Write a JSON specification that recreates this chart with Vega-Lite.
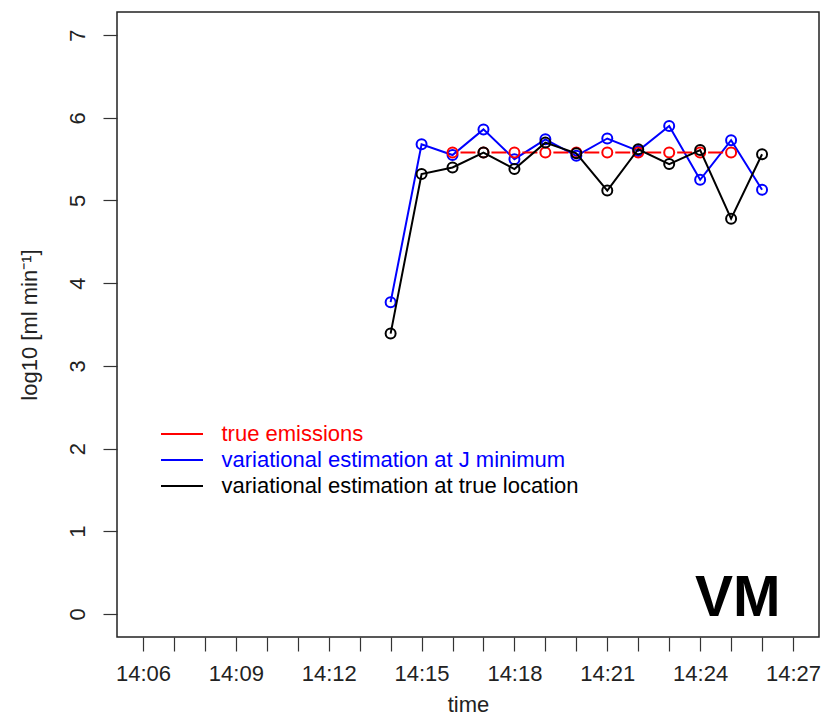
{
  "$schema": "https://vega.github.io/schema/vega-lite/v6.json",
  "width": 702,
  "height": 625,
  "autosize": {"type": "none"},
  "padding": {"left": 117, "top": 12, "right": 7, "bottom": 84},
  "background": "white",
  "config": {
    "font": "Liberation Sans",
    "view": {"stroke": "#222222", "strokeWidth": 1.5},
    "axis": {
      "domain": false,
      "grid": false,
      "tickSize": 14,
      "tickColor": "#333333",
      "tickWidth": 1.2,
      "labelFont": "Liberation Sans",
      "labelFontSize": 22,
      "labelColor": "#222222",
      "titleFont": "Liberation Sans",
      "titleFontSize": 22,
      "titleFontWeight": "normal",
      "titleColor": "#222222"
    }
  },
  "datasets": {
    "series": [
      {"time": "2020-01-01T14:14:00", "value": 3.77, "series": "variational estimation at J minimum"},
      {"time": "2020-01-01T14:15:00", "value": 5.68, "series": "variational estimation at J minimum"},
      {"time": "2020-01-01T14:16:00", "value": 5.55, "series": "variational estimation at J minimum"},
      {"time": "2020-01-01T14:17:00", "value": 5.86, "series": "variational estimation at J minimum"},
      {"time": "2020-01-01T14:18:00", "value": 5.50, "series": "variational estimation at J minimum"},
      {"time": "2020-01-01T14:19:00", "value": 5.74, "series": "variational estimation at J minimum"},
      {"time": "2020-01-01T14:20:00", "value": 5.54, "series": "variational estimation at J minimum"},
      {"time": "2020-01-01T14:21:00", "value": 5.75, "series": "variational estimation at J minimum"},
      {"time": "2020-01-01T14:22:00", "value": 5.60, "series": "variational estimation at J minimum"},
      {"time": "2020-01-01T14:23:00", "value": 5.90, "series": "variational estimation at J minimum"},
      {"time": "2020-01-01T14:24:00", "value": 5.25, "series": "variational estimation at J minimum"},
      {"time": "2020-01-01T14:25:00", "value": 5.73, "series": "variational estimation at J minimum"},
      {"time": "2020-01-01T14:26:00", "value": 5.13, "series": "variational estimation at J minimum"},
      {"time": "2020-01-01T14:16:00", "value": 5.58, "series": "true emissions"},
      {"time": "2020-01-01T14:17:00", "value": 5.58, "series": "true emissions"},
      {"time": "2020-01-01T14:18:00", "value": 5.58, "series": "true emissions"},
      {"time": "2020-01-01T14:19:00", "value": 5.58, "series": "true emissions"},
      {"time": "2020-01-01T14:20:00", "value": 5.58, "series": "true emissions"},
      {"time": "2020-01-01T14:21:00", "value": 5.58, "series": "true emissions"},
      {"time": "2020-01-01T14:22:00", "value": 5.58, "series": "true emissions"},
      {"time": "2020-01-01T14:23:00", "value": 5.58, "series": "true emissions"},
      {"time": "2020-01-01T14:24:00", "value": 5.58, "series": "true emissions"},
      {"time": "2020-01-01T14:25:00", "value": 5.58, "series": "true emissions"},
      {"time": "2020-01-01T14:14:00", "value": 3.39, "series": "variational estimation at true location"},
      {"time": "2020-01-01T14:15:00", "value": 5.32, "series": "variational estimation at true location"},
      {"time": "2020-01-01T14:16:00", "value": 5.40, "series": "variational estimation at true location"},
      {"time": "2020-01-01T14:17:00", "value": 5.58, "series": "variational estimation at true location"},
      {"time": "2020-01-01T14:18:00", "value": 5.38, "series": "variational estimation at true location"},
      {"time": "2020-01-01T14:19:00", "value": 5.70, "series": "variational estimation at true location"},
      {"time": "2020-01-01T14:20:00", "value": 5.57, "series": "variational estimation at true location"},
      {"time": "2020-01-01T14:21:00", "value": 5.12, "series": "variational estimation at true location"},
      {"time": "2020-01-01T14:22:00", "value": 5.62, "series": "variational estimation at true location"},
      {"time": "2020-01-01T14:23:00", "value": 5.44, "series": "variational estimation at true location"},
      {"time": "2020-01-01T14:24:00", "value": 5.61, "series": "variational estimation at true location"},
      {"time": "2020-01-01T14:25:00", "value": 4.78, "series": "variational estimation at true location"},
      {"time": "2020-01-01T14:26:00", "value": 5.56, "series": "variational estimation at true location"}
    ],
    "note": [
      {"time": "2020-01-01T14:25:13", "value": -0.02, "label": "VM"}
    ]
  },
  "encoding": {
    "x": {
      "field": "time",
      "type": "temporal",
      "title": "time",
      "scale": {
        "domain": [
          {"year": 2020, "month": 1, "date": 1, "hours": 14, "minutes": 5, "seconds": 9, "milliseconds": 600},
          {"year": 2020, "month": 1, "date": 1, "hours": 14, "minutes": 27, "seconds": 50, "milliseconds": 400}
        ],
        "nice": false
      },
      "axis": {
        "format": "%H:%M",
        "labelExpr": "indexof(['14:06','14:09','14:12','14:15','14:18','14:21','14:24','14:27'], datum.label) >= 0 ? datum.label : ''",
        "labelPadding": 12,
        "titlePadding": 10
      }
    },
    "y": {
      "field": "value",
      "type": "quantitative",
      "title": "log10 [ml min⁻¹]",
      "scale": {"domain": [-0.28, 7.28], "nice": false, "zero": false},
      "axis": {
        "values": [0, 1, 2, 3, 4, 5, 6, 7],
        "labelAngle": 270,
        "labelPadding": 14,
        "titlePadding": 25
      }
    }
  },
  "layer": [
    {
      "data": {"name": "series"},
      "transform": [{"filter": "datum.series == 'variational estimation at J minimum'"}],
      "mark": {"type": "line", "strokeWidth": 2},
      "encoding": {
        "color": {
          "field": "series",
          "type": "nominal",
          "scale": {
            "domain": ["true emissions", "variational estimation at J minimum", "variational estimation at true location"],
            "range": ["#FF0000", "#0000FF", "#000000"]
          },
          "legend": {
            "title": null,
            "orient": "none",
            "legendX": 53.5,
            "legendY": 410.5,
            "padding": 0,
            "symbolType": "M-2,0H2",
            "symbolSize": 441,
            "symbolStrokeWidth": 2,
            "labelFont": "Liberation Sans",
            "labelFontSize": 22,
            "labelOffset": 28,
            "labelLimit": 600,
            "rowPadding": 3,
            "encode": {"labels": {"update": {"fill": {"scale": "color", "field": "value"}}}}
          }
        }
      }
    },
    {
      "data": {"name": "series"},
      "transform": [{"filter": "datum.series == 'variational estimation at J minimum'"}],
      "mark": {"type": "point", "filled": false, "size": 100, "strokeWidth": 2, "opacity": 1},
      "encoding": {"color": {"field": "series", "type": "nominal"}}
    },
    {
      "data": {"name": "series"},
      "transform": [{"filter": "datum.series == 'true emissions'"}],
      "mark": {"type": "line", "strokeWidth": 2, "strokeDash": [15, 15.952], "strokeDashOffset": 22.976},
      "encoding": {"color": {"field": "series", "type": "nominal"}}
    },
    {
      "data": {"name": "series"},
      "transform": [{"filter": "datum.series == 'true emissions'"}],
      "mark": {"type": "point", "filled": false, "size": 100, "strokeWidth": 2, "opacity": 1},
      "encoding": {"color": {"field": "series", "type": "nominal"}}
    },
    {
      "data": {"name": "series"},
      "transform": [{"filter": "datum.series == 'variational estimation at true location'"}],
      "mark": {"type": "line", "strokeWidth": 2},
      "encoding": {"color": {"field": "series", "type": "nominal"}}
    },
    {
      "data": {"name": "series"},
      "transform": [{"filter": "datum.series == 'variational estimation at true location'"}],
      "mark": {"type": "point", "filled": false, "size": 100, "strokeWidth": 2, "opacity": 1},
      "encoding": {"color": {"field": "series", "type": "nominal"}}
    },
    {
      "data": {"name": "note"},
      "mark": {"type": "text", "fontSize": 57, "fontWeight": "bold", "baseline": "alphabetic", "align": "center", "color": "#000000"},
      "encoding": {"text": {"field": "label"}}
    }
  ]
}
